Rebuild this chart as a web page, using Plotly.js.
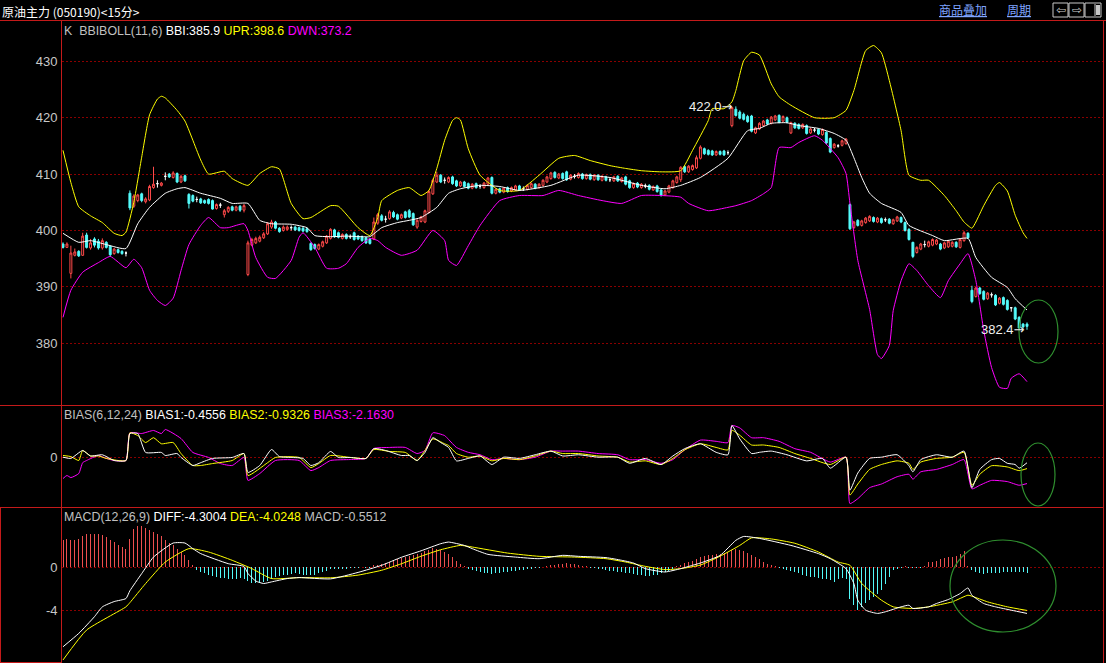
<!DOCTYPE html>
<html>
<head>
<meta charset="utf-8">
<script src="https://cdn.plot.ly/plotly-3.0.1.min.js"></script>
<style>html,body{margin:0;padding:0;background:#000;}#chart{width:1106px;height:663px;}</style>
</head>
<body>
<div id="chart"></div>
<script>
// ---------- candle data (15-minute bars, index 0..245) ----------
const openP = [397.6,397.0,392.4,395.6,396.3,395.6,399.2,396.9,398.5,398.1,396.9,397.9,397.2,395.9,396.6,396.3,396.0,
406.6,404.3,405.3,406.5,405.1,405.4,407.6,408.3,408.0,409.6,410.0,409.4,410.1,408.6,409.7,
406.4,406.2,405.5,405.6,405.3,405.5,405.3,403.9,404.5,402.8,403.4,404.2,403.6,404.3,403.6,
392.2,397.4,397.8,398.1,398.7,399.4,400.6,401.5,400.4,400.0,400.2,400.5,400.6,400.5,400.4,400.3,
397.7,397.5,396.7,397.2,397.8,398.6,400.1,399.6,398.6,399.3,398.9,399.6,399.0,398.9,398.7,398.4,
398.5,401.3,402.6,402.0,402.1,403.2,402.8,402.2,403.3,403.5,403.0,400.6,401.6,401.5,403.2,406.5,
408.6,409.8,408.9,408.6,409.5,408.8,407.9,408.6,408.3,407.5,408.3,407.8,407.6,408.2,409.4,406.6,
407.4,406.8,407.6,407.0,407.2,407.9,407.4,407.3,407.6,408.2,407.6,408.0,408.6,409.2,410.3,409.3,
410.1,410.4,409.1,409.6,409.4,410.0,409.2,409.9,409.0,409.8,408.9,409.5,409.0,408.8,409.6,408.7,
409.5,408.8,407.6,408.4,407.6,407.9,408.0,407.2,407.9,407.2,406.3,406.8,407.6,408.5,409.0,411.3,
410.4,410.8,411.1,412.8,414.5,414.2,414.1,413.4,414.0,414.1,413.8,
418.6,421.5,421.0,420.6,420.2,420.3,417.3,418.0,418.6,419.6,419.0,419.6,420.4,419.4,420.0,417.3,
419.0,418.8,418.2,418.6,417.3,417.8,417.9,417.0,417.4,416.3,414.7,415.0,415.1,415.4,
404.6,400.5,401.8,400.9,401.4,401.7,402.3,401.5,402.1,401.9,402.0,401.2,401.7,402.3,401.4,400.2,
397.9,396.1,396.7,397.5,397.2,397.4,397.6,397.6,396.9,397.1,397.2,397.9,397.0,398.2,399.5,
389.4,388.3,389.8,389.2,387.9,388.6,388.5,387.1,388.1,387.6,386.3,386.3,384.6,383.4,383.4];
const highP = [397.9,397.9,397.3,396.8,396.5,399.6,399.6,398.5,398.8,398.5,398.6,398.1,397.4,396.9,396.8,396.5,396.3,
407.1,406.4,406.5,406.7,405.9,408.1,411.3,408.9,408.6,410.3,410.2,410.5,410.3,409.9,409.9,
406.6,406.4,406.0,405.8,405.5,405.7,405.5,404.8,404.9,403.8,404.3,404.4,404.4,404.5,404.7,
398.2,398.7,398.9,399.1,399.7,401.5,401.9,401.7,400.6,400.9,400.9,400.9,400.8,400.7,400.6,400.5,
397.9,397.7,397.7,398.2,399.2,400.4,400.3,399.8,399.5,399.5,399.3,399.8,399.2,399.1,398.9,398.6,
402.3,403.1,402.9,402.6,403.6,403.5,403.0,403.0,403.5,403.8,403.2,402.0,402.6,403.7,407.2,409.2,
410.4,410.0,409.4,409.6,409.7,409.0,408.8,408.8,408.5,408.4,408.5,408.2,408.6,409.5,409.6,407.5,
407.6,407.7,407.8,407.8,408.1,408.1,407.8,408.2,408.5,408.4,408.4,409.1,409.7,410.4,410.5,410.2,
410.3,410.6,410.0,410.0,410.3,410.2,410.1,410.1,410.0,410.0,409.8,409.7,409.4,409.7,409.8,409.5,
409.7,409.0,408.5,408.6,408.4,408.3,408.2,408.0,408.1,407.4,407.2,408.1,409.0,409.7,411.4,411.5,
411.6,411.7,413.3,415.1,414.7,414.4,414.3,414.2,414.2,414.3,414.2,
421.9,422.0,421.3,420.9,420.5,420.5,418.4,419.2,419.6,419.8,420.3,420.5,420.6,420.4,420.2,419.3,
419.2,419.0,419.0,418.8,418.2,418.2,418.1,418.1,417.6,416.5,415.5,415.3,416.1,416.4,
404.8,401.7,402.0,401.9,402.4,402.7,402.5,402.4,402.3,402.3,402.2,402.1,402.6,402.5,401.6,400.4,
398.0,397.2,397.8,398.2,398.2,398.6,398.5,397.8,398.0,398.3,398.1,398.1,398.6,399.9,399.7,
390.2,390.0,390.0,389.4,389.1,389.0,388.7,388.2,388.3,387.8,386.4,386.5,384.8,383.6,383.7];
const lowP = [396.8,396.9,391.5,395.4,395.3,395.5,396.8,396.6,397.0,396.6,396.6,396.8,395.3,395.7,395.9,395.7,395.4,
403.6,404.0,405.0,405.0,404.8,405.2,407.4,407.6,407.8,408.9,409.3,409.2,408.4,408.4,408.6,
403.9,405.0,405.0,404.7,404.7,404.6,403.7,403.7,404.0,402.3,403.1,403.4,403.4,403.3,403.2,
391.9,397.2,397.6,397.9,398.5,399.2,400.3,400.2,399.6,399.8,400.0,400.0,399.9,399.8,399.7,399.6,
396.4,396.6,396.5,397.0,397.6,398.4,398.7,398.6,398.4,398.4,398.5,398.2,398.3,398.0,397.6,397.5,
398.3,401.0,401.6,401.4,401.9,402.2,401.8,402.0,402.1,402.2,400.8,400.3,401.4,401.3,403.0,406.3,
408.4,408.4,408.3,408.4,408.1,407.7,407.7,407.6,407.3,407.3,407.4,407.4,407.4,408.0,406.4,406.4,
406.6,406.6,406.7,406.8,407.0,407.0,407.0,407.1,407.4,407.3,407.4,407.8,408.4,409.0,409.2,409.1,
409.0,408.8,408.9,409.2,409.2,409.0,409.0,408.9,408.8,408.8,408.7,408.7,408.6,408.6,408.6,408.5,
408.0,407.4,407.4,407.5,407.4,407.5,407.1,407.0,406.7,406.0,406.1,406.6,407.4,408.3,408.6,410.2,
410.2,410.6,410.9,412.6,413.4,413.3,413.2,413.2,413.3,413.2,413.4,
418.3,420.2,419.7,419.5,419.1,417.4,417.1,417.8,418.4,418.7,418.8,419.4,419.0,419.2,419.0,417.1,
418.0,417.9,418.0,417.0,417.1,417.4,416.9,416.8,415.3,413.7,414.5,414.7,414.9,415.2,
400.1,400.3,400.7,400.7,401.2,401.5,401.4,401.3,401.2,401.5,401.1,401.0,401.5,401.3,399.8,398.2,
395.1,395.9,396.5,397.0,397.0,397.2,397.4,396.5,396.7,396.9,397.0,396.9,396.8,398.0,398.5,
387.1,388.1,388.6,387.6,387.7,388.1,386.6,386.9,386.7,385.8,385.6,384.1,382.6,382.6,382.4];
const closeP = [397.0,397.6,396.0,396.2,395.5,399.0,397.0,397.8,397.4,396.9,398.2,397.0,395.7,396.7,396.1,395.9,396.0,
404.0,406.1,406.3,405.3,405.6,407.8,408.2,408.3,408.4,409.6,409.5,410.2,408.6,409.6,408.8,
404.8,405.2,405.5,404.9,404.9,404.8,403.8,404.6,404.5,403.5,404.1,403.6,404.2,403.6,404.4,
397.8,398.4,398.6,398.8,399.4,401.2,401.5,400.4,399.8,400.6,400.6,400.5,400.1,400.0,399.9,399.8,
396.6,396.8,397.5,398.0,399.0,400.2,398.9,398.8,399.3,398.6,398.9,398.4,398.5,398.2,397.8,397.7,
401.5,402.8,401.8,402.0,403.3,402.4,402.0,402.8,402.3,402.4,401.0,401.8,402.4,403.5,406.9,408.9,
409.8,408.6,408.9,409.4,408.3,407.9,408.6,407.8,407.5,408.2,407.6,407.8,408.4,409.3,406.6,407.3,
406.8,407.5,406.9,407.6,407.9,407.2,407.4,408.0,408.3,407.5,408.2,408.9,409.5,410.2,409.4,410.0,
409.2,409.0,409.8,409.6,410.1,409.2,409.9,409.1,409.8,409.0,409.6,408.9,409.0,409.5,408.8,409.3,
408.2,407.6,408.3,407.7,408.2,407.9,407.3,407.8,406.9,406.2,407.0,407.9,408.8,409.5,411.2,410.4,
411.4,411.5,412.9,414.8,413.6,413.5,413.4,414.0,413.5,413.4,413.8,
421.8,420.4,419.9,419.7,419.3,417.6,418.2,419.0,419.4,418.9,420.1,420.3,419.2,420.2,419.2,419.1,
418.2,418.1,418.8,417.2,418.0,417.8,417.1,417.9,415.5,413.9,415.3,415.0,415.9,416.2,
400.3,401.5,400.9,401.7,402.2,402.5,401.6,402.2,401.4,401.9,401.3,401.9,402.4,401.5,400.0,398.4,
395.4,397.0,397.6,397.5,398.0,398.4,398.3,396.7,397.8,398.1,397.9,397.1,398.4,399.6,398.7,
387.4,389.8,388.8,387.8,388.9,388.6,386.8,388.0,386.9,386.0,386.3,384.3,382.7,382.9,383.0];

// ---------- BBIBOLL(11,6) lines: knots (bar index, value) ----------
const bbiIdx = [0,4,7,11,16,19,22,26,29,31,35,40,43,47,50,53,58,62,64,68,72,76,78,81,85,88,91,95,98,101,106,111,116,124,131,139,147,153,157,162,169,174,177,180,184,187,192,196,199,201,203,205,208,213,215,221,224,230,232,236,240,242,245];
const bbiVal = [399.5,397.9,398.2,397.5,396.8,401.2,404.1,406.6,407.4,407.6,406.6,405.7,404.8,404.8,401.8,401.2,401.1,400.5,399.1,398.9,399.0,398.9,398.9,400.5,401.4,401.8,402.3,404.1,406.6,407.4,408.0,407.8,407.1,408.0,409.8,409.4,408.0,407.4,408.0,409.4,412.8,417.7,418.1,419.0,419.1,418.6,418.1,417.2,416.0,412.9,409.4,406.6,404.8,403.2,400.9,399.1,398.2,398.6,395.2,391.7,389.9,387.9,385.9];
const uprIdx = [0,2,4,7,10,13,15,16,18,20,22,24,25,26,29,31,35,37,41,43,47,50,53,55,58,61,63,68,70,75,78,80,81,85,88,91,93,95,97,99,100,101,103,106,111,116,121,126,130,134,139,143,147,152,157,160,164,165,168,170,171,173,175,177,180,182,185,191,196,199,201,204,206,208,210,213,215,218,220,224,227,229,231,232,234,237,238,240,242,244,245];
const uprVal = [414.2,408.5,404.2,402.6,401.4,399.5,399.1,399.7,405.0,413.0,420.5,423.3,423.8,423.5,421.3,419.4,412.5,410.0,410.5,409.2,408.0,410.1,411.3,410.9,404.8,402.1,402.3,404.4,404.3,400.5,399.1,402.3,405.3,407.1,407.6,406.2,407.1,411.0,416.0,419.5,420.0,419.6,414.5,409.8,407.1,407.1,409.8,412.8,413.3,412.4,411.5,411.0,410.6,410.4,410.6,414.2,419.5,421.6,421.6,422.8,424.8,430.1,431.6,431.1,426.0,423.7,422.2,420.0,420.0,421.3,424.8,431.9,432.8,431.5,426.6,417.7,409.8,408.9,408.9,406.2,403.5,401.5,400.4,401.5,404.4,408.0,408.5,407.0,402.7,399.6,398.6];
const dwnIdx = [0,2,5,9,12,16,18,20,22,24,26,28,30,32,35,37,40,42,46,47,49,52,54,58,60,61,64,67,70,72,75,78,80,82,86,90,94,97,98,100,103,106,111,116,122,126,131,137,142,147,152,157,159,164,169,171,175,178,180,182,185,187,191,193,197,199,200,202,205,207,208,210,211,213,215,217,220,223,225,228,230,232,234,236,238,240,241,243,245];
const dwnVal = [384.6,389.4,392.6,394.3,395.4,393.4,394.9,393.4,389.4,387.6,386.7,388.0,392.9,397.5,400.9,402.3,400.5,400.5,401.2,400.0,395.2,391.7,391.5,394.7,398.8,399.6,397.0,393.3,393.3,394.1,397.0,398.6,398.2,397.0,395.6,396.5,400.0,398.2,394.7,393.8,397.3,400.9,405.3,406.2,406.2,407.1,406.2,405.3,404.8,406.2,406.2,405.9,404.8,403.5,404.1,404.4,405.3,406.5,407.6,414.7,414.7,415.6,416.8,416.0,412.9,410.1,404.8,394.7,386.0,378.0,377.3,379.6,385.8,391.1,394.1,392.9,390.2,388.1,391.1,394.1,395.9,391.1,382.3,375.7,372.2,372.0,373.8,374.6,373.2];

// ---------- BIAS(6,12,24) ----------
const bias1Idx = [0,2,5,7,10,13,16,17,19,21,25,26,29,30,33,35,38,43,46,47,50,53,55,58,61,63,65,68,70,73,77,79,82,86,88,90,92,94,96,98,100,103,106,109,112,116,120,124,127,131,136,141,144,148,152,155,158,162,166,169,170,172,175,177,180,184,189,193,195,199,200,202,205,208,212,215,216,218,222,226,229,231,233,236,238,240,242,243,245];
const bias1Val = [0.0,-0.1,0.55,0.1,0.2,-0.27,-0.27,1.94,1.94,0.39,0.39,0.14,0.3,-0.02,-0.68,-0.45,-0.1,-0.02,0.3,-1.25,-0.68,0.63,0.05,-0.02,-0.1,-0.68,-0.45,0.47,-0.02,-0.02,-0.1,0.71,0.55,0.14,0.14,-0.27,0.39,1.6,1.2,0.8,-0.3,-0.1,0.1,-0.6,0.0,-0.1,0.2,0.5,0.1,0.2,0.0,0.0,-0.5,-0.1,-0.6,0.1,0.7,1.1,0.4,0.2,2.6,1.5,0.3,0.4,0.5,0.2,-0.3,-0.1,-0.9,0.0,-2.7,-1.3,-0.1,0.0,0.2,-0.7,-1.2,-0.2,0.2,0.0,0.5,-2.5,-1.0,-0.2,-0.1,-0.5,-0.6,-0.9,-0.4556];
const bias2Idx = [0,2,4,5,7,9,11,16,17,19,21,23,25,28,30,33,35,38,43,46,47,52,54,60,63,65,68,73,77,79,83,87,90,92,94,97,98,100,103,106,109,112,116,120,124,127,131,136,141,144,148,152,155,158,162,166,169,170,172,175,178,182,186,190,195,199,200,202,205,208,212,215,216,218,222,226,229,231,233,236,240,243,245];
const bias2Val = [0.14,0.05,-0.27,0.55,0.1,0.1,-0.1,-0.27,2.0,1.77,1.2,1.6,1.1,1.2,0.3,-0.68,-0.68,-0.52,-0.27,0.3,-1.5,-0.45,-0.02,-0.02,-0.85,-0.52,0.14,-0.02,-0.1,0.63,0.47,0.39,-0.27,0.55,1.5,1.1,0.96,0.3,0.0,0.1,-0.3,-0.1,-0.2,0.1,0.5,0.3,0.3,0.1,0.0,-0.4,-0.3,-0.6,-0.1,0.6,1.1,0.8,0.6,2.2,1.8,1.0,1.0,0.8,0.3,-0.1,-0.6,0.0,-3.1,-2.2,-1.0,-0.6,-0.3,-0.5,-1.0,-0.4,-0.1,0.0,0.4,-2.3,-1.4,-0.7,-0.8,-1.1,-0.9326];
const bias3Idx = [0,1,2,4,5,6,9,11,13,16,17,20,23,25,26,30,33,37,40,43,46,47,50,54,60,63,65,68,73,77,79,83,87,90,92,94,97,98,100,103,106,109,112,116,120,124,127,131,136,141,144,148,152,155,158,162,166,169,170,172,175,178,182,186,190,195,199,200,202,205,208,212,215,216,218,222,226,229,231,233,236,240,243,245];
const bias3Val = [-1.75,-1.5,-1.67,-1.34,-0.45,-0.27,0.14,-0.1,-0.27,-0.27,2.0,1.94,2.19,1.94,2.27,1.53,0.39,-0.02,-0.52,-0.68,-0.02,-1.9,-1.34,-0.27,-0.27,-1.1,-0.85,-0.27,-0.19,-0.1,0.71,0.8,0.8,0.3,0.55,2.0,1.77,1.45,0.8,0.4,0.2,-0.2,-0.1,-0.2,0.0,0.5,0.5,0.5,0.3,0.2,-0.2,-0.2,-0.5,-0.2,0.6,1.4,1.3,1.2,2.6,2.4,1.6,1.6,1.3,0.7,0.4,-0.4,0.0,-3.8,-3.4,-2.5,-2.2,-1.6,-1.4,-1.8,-1.2,-1.0,-0.6,-0.2,-2.6,-2.3,-1.9,-2.0,-2.3,-2.163];

// ---------- MACD(12,26,9) ----------
const diffIdx = [0,4,8,10,13,16,17,20,23,28,31,33,35,42,46,47,49,51,53,57,60,68,75,81,86,91,96,98,102,104,108,115,121,127,131,138,142,145,148,153,157,160,162,167,171,173,177,185,192,195,199,201,202,204,207,209,213,215,216,220,222,225,228,230,231,234,237,241,245];
const diffVal = [-7.39,-6.15,-4.6,-3.69,-3.2,-2.92,-2.2,-0.61,0.92,2.22,2.22,1.7,1.24,0.31,0.05,-0.6,-1.3,-1.53,-1.38,-1.07,-0.98,-1.1,-0.5,0.16,0.9,1.5,2.16,2.31,2.0,1.7,1.17,0.92,0.77,1.08,0.99,0.87,0.62,0.37,-0.15,-0.46,-0.15,0.16,0.37,1.07,2.47,2.83,2.65,2.0,1.24,0.77,-0.15,-1.53,-3.07,-4.0,-4.3,-4.15,-3.69,-3.54,-3.84,-3.69,-3.38,-3.01,-2.46,-1.94,-2.61,-3.38,-3.69,-4.0,-4.3004];
const deaIdx = [0,6,16,17,21,26,32,37,43,48,53,60,68,75,81,86,91,96,101,104,113,121,130,138,143,148,153,157,162,167,172,175,180,186,192,197,200,203,208,211,216,220,226,230,231,235,240,245];
const deaVal = [-8.61,-5.84,-3.69,-3.3,-1.53,0.46,1.7,1.39,0.62,-0.15,-1.07,-0.98,-1.0,-0.75,-0.3,0.3,1.0,1.6,2.0,1.85,1.29,0.99,0.92,0.77,0.46,0.06,-0.24,-0.15,0.18,1.0,2.0,2.7,2.6,2.2,1.39,0.46,0.16,-1.53,-3.07,-3.69,-3.84,-3.69,-3.23,-2.61,-2.7,-3.23,-3.69,-4.0248];
const macdHist = [2.53,2.62,2.53,2.53,2.6,2.83,3.02,3.08,3.08,3.02,2.93,2.77,2.53,2.31,2.0,1.85,1.7,
2.62,3.54,3.76,3.76,3.64,3.45,3.23,3.08,2.83,2.53,2.22,2.0,1.7,1.39,1.08,0.62,0.16,
-0.3,-0.45,-0.6,-0.75,-0.85,-0.95,-1.0,-1.05,-1.1,-1.1,-1.1,-1.05,-1.1,-1.3,-1.45,-1.5,-1.5,-1.4,-1.25,-1.1,-0.95,-0.85,-0.75,-0.7,-0.65,-0.6,-0.65,-0.7,-0.7,
-0.75,-0.7,-0.6,-0.5,-0.35,-0.2,-0.2,-0.2,-0.15,-0.15,-0.1,-0.1,-0.05,0.0,-0.05,-0.05,0.15,
0.2,0.3,0.4,0.5,0.6,0.7,0.8,0.9,1.0,1.1,1.2,1.3,1.45,1.6,1.75,1.7,1.6,1.4,1.2,0.9,0.6,0.3,
0.05,-0.15,-0.3,-0.4,-0.5,-0.55,-0.6,-0.65,-0.6,-0.55,-0.5,-0.45,-0.4,-0.35,-0.3,-0.25,-0.2,-0.15,-0.1,-0.05,0.0,
0.1,0.15,0.2,0.25,0.3,0.35,0.3,0.25,0.2,0.1,0.05,
-0.05,-0.1,-0.15,-0.2,-0.3,-0.35,-0.4,-0.45,-0.5,-0.55,-0.6,-0.65,-0.7,-0.75,-0.8,-0.8,-0.75,-0.7,-0.6,-0.5,-0.35,-0.2,
0.05,0.2,0.35,0.5,0.6,0.75,0.9,1.0,1.1,1.15,1.2,1.25,1.3,1.4,1.6,1.7,1.6,1.45,1.3,1.1,0.9,0.7,0.5,0.3,0.15,0.05,
-0.1,-0.2,-0.3,-0.4,-0.5,-0.6,-0.7,-0.8,-0.9,-0.95,-1.0,
-1.07,-1.1,-1.2,-1.38,-1.1,-1.0,-1.07,
-2.92,-3.54,-4.0,-3.69,-3.38,-3.07,-2.77,-2.46,-2.15,-1.53,-0.92,-0.3,-0.15,-0.1,0.05,-0.05,-0.1,-0.1,
-0.05,0.1,
0.46,0.5,0.6,0.77,0.8,0.9,0.95,1.05,1.2,1.48,
0.05,
-0.3,-0.45,-0.6,-0.62,-0.6,-0.55,-0.55,-0.55,-0.5,-0.48,-0.45,-0.45,-0.42,-0.48,-0.5512];

// ---------- text ----------
const titleText = '原油主力 (050190)<15分>';

// ---------- geometry helpers (pixel -> paper) ----------
const W = 1106, H = 663;
const px = v => v / W;
const py = v => (H - v) / H;

const RED = '#c41a1a', GRID = '#8a0000', CYAN = '#54fcfc', UPRED = '#ff4a4a';
const nBars = closeP.length;
const idx = closeP.map((_, i) => i);
const pxPer = (1027 - 63) / (nBars - 1);

function pick(cond) {
  const o = {x: [], open: [], high: [], low: [], close: []};
  idx.forEach(i => { if (cond(i)) { o.x.push(i); o.open.push(openP[i]); o.high.push(highP[i]); o.low.push(lowP[i]); o.close.push(closeP[i]); } });
  return o;
}
const up = pick(i => closeP[i] > openP[i]);
const dn = pick(i => closeP[i] < openP[i]);
const dj = pick(i => closeP[i] === openP[i]);

function candle(d, lineCol, fill) {
  return Object.assign({type: 'candlestick', xaxis: 'x', yaxis: 'y', hoverinfo: 'skip',
    increasing: {line: {color: lineCol, width: 1}, fillcolor: fill},
    decreasing: {line: {color: lineCol, width: 1}, fillcolor: fill}, whiskerwidth: 0}, d);
}
function line(xs, ys, color, yaxis) {
  return {type: 'scatter', mode: 'lines', x: xs, y: ys, yaxis: yaxis, xaxis: 'x', hoverinfo: 'skip',
    line: {color: color, width: 1, shape: 'spline', smoothing: 0.5}};
}

const traces = [
  line(uprIdx, uprVal, '#ffff00', 'y'),
  line(dwnIdx, dwnVal, '#ff00ff', 'y'),
  line(bbiIdx, bbiVal, '#ffffff', 'y'),
  candle(up, UPRED, '#000000'),
  candle(dn, CYAN, CYAN),
  candle(dj, '#ffffff', '#ffffff'),
  line(bias3Idx, bias3Val, '#ff00ff', 'y2'),
  line(bias2Idx, bias2Val, '#ffff00', 'y2'),
  line(bias1Idx, bias1Val, '#ffffff', 'y2'),
  {type: 'bar', x: idx, y: macdHist, xaxis: 'x', yaxis: 'y3', width: 1 / pxPer, hoverinfo: 'skip',
   marker: {color: macdHist.map(v => v >= 0 ? '#f05050' : CYAN), opacity: 0.99, line: {width: 0}}},
  line(deaIdx, deaVal, '#ffff00', 'y3'),
  line(diffIdx, diffVal, '#ffffff', 'y3')
];

// extremes for labels
let hiI = 0, loI = 0;
idx.forEach(i => { if (highP[i] > highP[hiI]) hiI = i; if (lowP[i] <= lowP[loI]) loI = i; });

const last = a => a[a.length - 1];
const f1 = v => v.toFixed(1);
const LF = {family: 'Liberation Sans, Arial, sans-serif', size: 12.4, color: '#c0c0c0'};
const ARW = '<span style="font-family:DejaVu Sans">→</span>';

function pa(x, y, text, extra) {
  return Object.assign({xref: 'paper', yref: 'paper', x: px(x), y: py(y), text: text, showarrow: false,
    xanchor: 'left', yanchor: 'middle', font: LF, borderpad: 0}, extra || {});
}

const annotations = [
  pa(1, 11, titleText, {font: {family: 'Noto Sans CJK SC, sans-serif', size: 12, color: '#ffffff'}}),
  pa(938, 10, '<u>商品叠加</u>', {font: {family: 'Noto Sans CJK SC, sans-serif', size: 12, color: '#7fa4ff'}}),
  pa(1006, 10, '<u>周期</u>', {font: {family: 'Noto Sans CJK SC, sans-serif', size: 12, color: '#7fa4ff'}}),
  pa(1060.5, 10, '⇦', {xanchor: 'center', font: {family: 'DejaVu Sans', size: 12, color: '#d0d0d0'}}),
  pa(1076.5, 10, '⇨', {xanchor: 'center', font: {family: 'DejaVu Sans', size: 12, color: '#d0d0d0'}}),
  pa(63, 31, 'K  BBIBOLL(11,6) <span style="color:#ffffff">BBI:' + f1(last(bbiVal)) + '</span> <span style="color:#ffff00">UPR:' + f1(last(uprVal)) + '</span> <span style="color:#ff00ff">DWN:' + f1(last(dwnVal)) + '</span>'),
  pa(63, 415, 'BIAS(6,12,24) <span style="color:#ffffff">BIAS1:' + last(bias1Val).toFixed(4) + '</span> <span style="color:#ffff00">BIAS2:' + last(bias2Val).toFixed(4) + '</span> <span style="color:#ff00ff">BIAS3:' + last(bias3Val).toFixed(4) + '</span>'),
  pa(63, 517, 'MACD(12,26,9) <span style="color:#ffffff">DIFF:' + last(diffVal).toFixed(4) + '</span> <span style="color:#ffff00">DEA:' + last(deaVal).toFixed(4) + '</span> MACD:' + last(macdHist).toFixed(4)),
  {xref: 'x', yref: 'y', x: hiI, y: highP[hiI], text: highP[hiI].toFixed(1) + ARW, showarrow: false,
   xanchor: 'right', yanchor: 'middle', xshift: -1, font: {family: 'Liberation Sans, Arial', size: 13, color: '#f0f0f0'}},
  {xref: 'x', yref: 'y', x: loI, y: lowP[loI], text: lowP[loI].toFixed(1) + ARW, showarrow: false,
   xanchor: 'right', yanchor: 'middle', xshift: 0, font: {family: 'Liberation Sans, Arial', size: 13, color: '#f0f0f0'}}
];

function hl(x0, x1, y) { return {type: 'line', xref: 'paper', yref: 'paper', x0: px(x0), x1: px(x1), y0: py(y), y1: py(y), line: {color: RED, width: 1}}; }
function vl(x, y0, y1) { return {type: 'line', xref: 'paper', yref: 'paper', x0: px(x), x1: px(x), y0: py(y0), y1: py(y1), line: {color: RED, width: 1}}; }
function ell(x0, x1, y0, y1) { return {type: 'circle', xref: 'paper', yref: 'paper', x0: px(x0), x1: px(x1), y0: py(y1), y1: py(y0), line: {color: '#2f8f2f', width: 1.2}}; }
function box(x0, x1, y0, y1) { return {type: 'rect', xref: 'paper', yref: 'paper', x0: px(x0), x1: px(x1), y0: py(y1), y1: py(y0), line: {color: '#c8c8c8', width: 1}}; }

const shapes = [
  hl(0, 1106, 20.5), hl(0, 1104, 405.5), hl(0, 1104, 507.5),
  vl(61.5, 20, 663), vl(1103.5, 20, 663),
  vl(0.5, 507, 663), hl(0, 61, 662.5),
  ell(1019, 1058, 300, 363), ell(1021, 1055, 443, 506), ell(950, 1056, 540, 632),
  box(1053, 1068, 3, 17), box(1069, 1084, 3, 17), box(1085, 1101, 3, 17),
  {type: 'line', xref: 'paper', yref: 'paper', x0: px(1095), x1: px(1095), y0: py(4), y1: py(16), line: {color: '#c8c8c8', width: 1}},
  {type: 'rect', xref: 'paper', yref: 'paper', x0: px(1096), x1: px(1100), y0: py(15), y1: py(5), fillcolor: '#c8c8c8', line: {width: 0}}
];

const xr0 = 0 - (63 - 61.5) / pxPer;
const xr1 = (nBars - 1) + (1103.5 - 1027) / pxPer;

const yCommon = {showline: false, zeroline: false, ticks: '', gridcolor: GRID, griddash: '2px,2px', gridwidth: 1,
  tickfont: {family: 'Liberation Sans, Arial, sans-serif', size: 13, color: '#c8c8c8'}, ticklabelstandoff: 3, fixedrange: true};

const layout = {
  width: W, height: H, margin: {l: 0, r: 0, t: 0, b: 0, pad: 0},
  paper_bgcolor: '#000000', plot_bgcolor: '#000000', showlegend: false, hovermode: false,
  bargap: 0, bargroupgap: 0,
  xaxis: {domain: [px(61.5), px(1103.5)], range: [xr0, xr1], showgrid: false, zeroline: false, showticklabels: false,
    ticks: '', showline: false, anchor: 'y3', rangeslider: {visible: false}, fixedrange: true},
  yaxis: Object.assign({}, yCommon, {domain: [py(405.5), py(20.5)], range: [368.97, 437.23], tickvals: [380, 390, 400, 410, 420, 430]}),
  yaxis2: Object.assign({}, yCommon, {domain: [py(507.5), py(405.5)], range: [-4.123, 4.238], tickvals: [0], ticktext: ['0']}),
  yaxis3: Object.assign({}, yCommon, {domain: [0, py(507.5)], range: [-8.892, 5.512], tickvals: [0, -4], ticktext: ['0', '-4']}),
  annotations: annotations, shapes: shapes
};

Plotly.newPlot('chart', traces, layout, {displayModeBar: false, staticPlot: true});
</script>
</body>
</html>
